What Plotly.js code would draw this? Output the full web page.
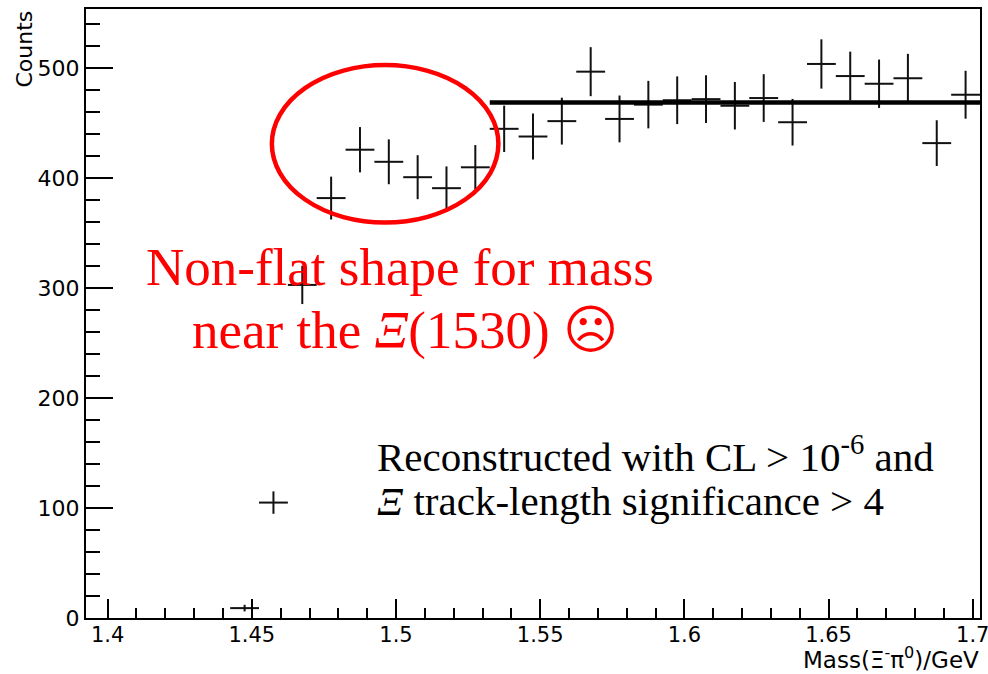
<!DOCTYPE html>
<html>
<head>
<meta charset="utf-8">
<script src="https://cdn.plot.ly/plotly-3.0.1.min.js"></script>
<style>html,body{margin:0;padding:0;background:#fff;}#chart{width:988px;height:674px;}</style>
</head>
<body>
<div id="chart"></div>
<script>
// ---- data ----
const binCenters = [1.4475, 1.4575, 1.4675, 1.4775, 1.4875, 1.4975, 1.5075, 1.5175, 1.5275, 1.5375,
                    1.5475, 1.5575, 1.5675, 1.5775, 1.5875, 1.5975, 1.6075, 1.6175, 1.6275, 1.6375,
                    1.6475, 1.6575, 1.6675, 1.6775, 1.6875, 1.6975];
const counts = [9, 105, 303, 382, 426, 415, 401, 391, 410, 445,
                438, 452, 497, 454, 467, 471, 472, 466, 473, 451,
                504, 493, 486, 491, 432, 476];
const countErrors = [3.0, 10.2, 17.4, 19.5, 20.6, 20.4, 20.0, 19.8, 20.2, 21.1,
                     20.9, 21.3, 22.3, 21.3, 21.6, 21.7, 21.7, 21.6, 21.7, 21.2,
                     22.4, 22.2, 22.0, 22.2, 20.8, 21.8];
const binHalfWidth = 0.005;
const fitX = [1.5325, 1.7025];
const fitY = [469, 469];
const xTickVals = [1.4, 1.45, 1.5, 1.55, 1.6, 1.65, 1.7];
const xTickText = ["1.4", "1.45", "1.5", "1.55", "1.6", "1.65", "1.7"];
const yTickVals = [0, 100, 200, 300, 400, 500];
const yTickText = ["0", "100", "200", "300", "400", "500"];
const xTitle = "Mass(\u039E<sup>-</sup>\u03C0<sup>0</sup>)/GeV";
const yTitle = "Counts";
const note1 = ["Non-flat shape for mass", "near the <i>\u039E</i>(1530) \u2639"];
const note2 = ["Reconstructed with CL &gt; 10<sup>-6</sup> and", "<i>\u039E</i> track-length significance &gt; 4"];

// ---- layout helpers (pixel -> paper) ----
const L = 85.5, R = 980, T = 9, B = 618.5;
const px = x => (x - L) / (R - L);
const py = y => (B - y) / (B - T);

const traces = [
  {
    x: binCenters, y: counts, type: 'scatter', mode: 'markers',
    marker: {size: 1, color: 'rgba(0,0,0,0)'},
    error_y: {type: 'data', array: countErrors, visible: true, width: 0, thickness: 2, color: '#111'},
    error_x: {type: 'constant', value: binHalfWidth, visible: true, width: 0, thickness: 2, color: '#111'},
    hoverinfo: 'x+y', showlegend: false
  },
  {
    x: fitX, y: fitY, type: 'scatter', mode: 'lines',
    line: {color: '#000', width: 4.5}, showlegend: false
  }
];

const axisCommon = {
  showline: true, linewidth: 2, linecolor: '#000', mirror: true,
  ticks: 'inside', tickwidth: 2, tickcolor: '#000',
  showgrid: false, zeroline: false, tickmode: 'array',
  ticklabeloverflow: 'allow',
  tickfont: {family: 'DejaVu Sans', size: 22, color: '#000'}
};

const layout = {
  width: 988, height: 674,
  margin: {l: L, r: 988 - R, t: T, b: 674 - B, pad: 0},
  paper_bgcolor: '#fff', plot_bgcolor: '#fff',
  font: {family: 'DejaVu Sans', color: '#000'},
  showlegend: false,
  xaxis: Object.assign({}, axisCommon, {
    range: [1.3925, 1.7025], tickvals: xTickVals, ticktext: xTickText, ticklen: 19,
    ticklabelstandoff: -3,
    tickfont: {family: 'DejaVu Sans', size: 21, color: '#000'},
    minor: {ticks: 'inside', ticklen: 10, tickwidth: 2, tickcolor: '#000', dtick: 0.01, tick0: 1.4, showgrid: false}
  }),
  yaxis: Object.assign({}, axisCommon, {
    range: [0, 554], tickvals: yTickVals, ticktext: yTickText, ticklen: 27,
    minor: {ticks: 'inside', ticklen: 14, tickwidth: 2, tickcolor: '#000', dtick: 20, tick0: 0, showgrid: false}
  }),
  shapes: [
    {type: 'circle', xref: 'x', yref: 'y', x0: 1.45695, x1: 1.5355, y0: 359.7, y1: 503.0,
     line: {color: '#ff0000', width: 4.5}, fillcolor: 'rgba(0,0,0,0)', layer: 'above'}
  ],
  annotations: [
    {text: yTitle, xref: 'paper', yref: 'paper', x: px(24), y: py(49), xanchor: 'center', yanchor: 'middle',
     textangle: -90, showarrow: false, font: {family: 'DejaVu Sans', size: 22, color: '#000'}},
    {text: xTitle, xref: 'paper', yref: 'paper', x: px(981), y: py(659), xanchor: 'right', yanchor: 'middle',
     showarrow: false, font: {family: 'DejaVu Sans', size: 23, color: '#000'}},
    {text: note1[0], xref: 'paper', yref: 'paper', x: px(144), y: py(267), xanchor: 'left', yanchor: 'middle',
     showarrow: false, font: {family: 'Liberation Serif', size: 53, color: '#ff0000'}},
    {text: note1[1], xref: 'paper', yref: 'paper', x: px(190), y: py(331), xanchor: 'left', yanchor: 'middle',
     showarrow: false, font: {family: 'Liberation Serif', size: 53, color: '#ff0000'}},
    {text: note2[0], xref: 'paper', yref: 'paper', x: px(374.5), y: py(454), xanchor: 'left', yanchor: 'middle',
     showarrow: false, font: {family: 'Liberation Serif', size: 41, color: '#000'}},
    {text: note2[1], xref: 'paper', yref: 'paper', x: px(374.5), y: py(501), xanchor: 'left', yanchor: 'middle',
     showarrow: false, font: {family: 'Liberation Serif', size: 41, color: '#000'}}
  ]
};

Plotly.newPlot('chart', traces, layout, {displayModeBar: false, staticPlot: true});
</script>
</body>
</html>
